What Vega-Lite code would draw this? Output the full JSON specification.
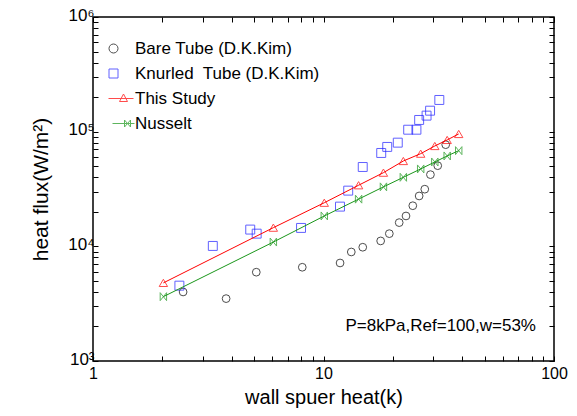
{
  "$schema": "https://vega.github.io/schema/vega-lite/v6.json",
  "width": 461,
  "height": 344,
  "autosize": "none",
  "padding": {"left": 93, "top": 17, "right": 23, "bottom": 55},
  "background": "white",
  "config": {
    "view": {"stroke": "black", "strokeWidth": 1.5},
    "font": "Liberation Sans",
    "axis": {"labelFont": "Liberation Sans", "titleFont": "Liberation Sans", "labelColor": "black", "titleColor": "black", "tickColor": "black", "domain": false, "grid": false, "titleFontWeight": "normal", "labelOverlap": false, "labelFlush": false}
  },
  "data": {
    "values": [
      {"series": "Bare Tube (D.K.Kim)", "x": 2.46, "y": 4000},
      {"series": "Bare Tube (D.K.Kim)", "x": 3.78, "y": 3500},
      {"series": "Bare Tube (D.K.Kim)", "x": 5.11, "y": 5950},
      {"series": "Bare Tube (D.K.Kim)", "x": 8.09, "y": 6570},
      {"series": "Bare Tube (D.K.Kim)", "x": 11.8, "y": 7160},
      {"series": "Bare Tube (D.K.Kim)", "x": 13.2, "y": 8930},
      {"series": "Bare Tube (D.K.Kim)", "x": 14.8, "y": 9820},
      {"series": "Bare Tube (D.K.Kim)", "x": 17.7, "y": 11150},
      {"series": "Bare Tube (D.K.Kim)", "x": 19.3, "y": 12900},
      {"series": "Bare Tube (D.K.Kim)", "x": 21.3, "y": 16100},
      {"series": "Bare Tube (D.K.Kim)", "x": 22.8, "y": 18400},
      {"series": "Bare Tube (D.K.Kim)", "x": 24.4, "y": 22600},
      {"series": "Bare Tube (D.K.Kim)", "x": 26.0, "y": 27500},
      {"series": "Bare Tube (D.K.Kim)", "x": 27.5, "y": 31500},
      {"series": "Bare Tube (D.K.Kim)", "x": 29.1, "y": 42200},
      {"series": "Bare Tube (D.K.Kim)", "x": 31.3, "y": 50500},
      {"series": "Bare Tube (D.K.Kim)", "x": 33.9, "y": 77000},
      {"series": "Knurled\u00a0 Tube (D.K.Kim)", "x": 2.37, "y": 4540},
      {"series": "Knurled\u00a0 Tube (D.K.Kim)", "x": 3.31, "y": 10080},
      {"series": "Knurled\u00a0 Tube (D.K.Kim)", "x": 4.81, "y": 14000},
      {"series": "Knurled\u00a0 Tube (D.K.Kim)", "x": 5.13, "y": 12900},
      {"series": "Knurled\u00a0 Tube (D.K.Kim)", "x": 7.99, "y": 14470},
      {"series": "Knurled\u00a0 Tube (D.K.Kim)", "x": 11.79, "y": 22200},
      {"series": "Knurled\u00a0 Tube (D.K.Kim)", "x": 12.8, "y": 30600},
      {"series": "Knurled\u00a0 Tube (D.K.Kim)", "x": 14.8, "y": 49200},
      {"series": "Knurled\u00a0 Tube (D.K.Kim)", "x": 17.8, "y": 65200},
      {"series": "Knurled\u00a0 Tube (D.K.Kim)", "x": 18.9, "y": 73600},
      {"series": "Knurled\u00a0 Tube (D.K.Kim)", "x": 21.0, "y": 80200},
      {"series": "Knurled\u00a0 Tube (D.K.Kim)", "x": 23.3, "y": 104000},
      {"series": "Knurled\u00a0 Tube (D.K.Kim)", "x": 25.3, "y": 104000},
      {"series": "Knurled\u00a0 Tube (D.K.Kim)", "x": 26.0, "y": 126500},
      {"series": "Knurled\u00a0 Tube (D.K.Kim)", "x": 28.0, "y": 138000},
      {"series": "Knurled\u00a0 Tube (D.K.Kim)", "x": 29.0, "y": 152400},
      {"series": "Knurled\u00a0 Tube (D.K.Kim)", "x": 31.8, "y": 189000},
      {"series": "This Study", "x": 2.02, "y": 4800},
      {"series": "This Study", "x": 6.06, "y": 14550},
      {"series": "This Study", "x": 10.08, "y": 24000},
      {"series": "This Study", "x": 14.2, "y": 34100},
      {"series": "This Study", "x": 18.2, "y": 43900},
      {"series": "This Study", "x": 22.2, "y": 55500},
      {"series": "This Study", "x": 26.4, "y": 64300},
      {"series": "This Study", "x": 30.4, "y": 75000},
      {"series": "This Study", "x": 34.4, "y": 84700},
      {"series": "This Study", "x": 38.6, "y": 95500},
      {"series": "Nusselt", "x": 2.02, "y": 3640},
      {"series": "Nusselt", "x": 6.06, "y": 10900},
      {"series": "Nusselt", "x": 10.08, "y": 18400},
      {"series": "Nusselt", "x": 14.2, "y": 25800},
      {"series": "Nusselt", "x": 18.2, "y": 33000},
      {"series": "Nusselt", "x": 22.2, "y": 40000},
      {"series": "Nusselt", "x": 26.4, "y": 47300},
      {"series": "Nusselt", "x": 30.4, "y": 54400},
      {"series": "Nusselt", "x": 34.4, "y": 61400},
      {"series": "Nusselt", "x": 38.6, "y": 68300}
    ]
  },
  "resolve": {"axis": {"x": "independent", "y": "independent"}},
  "layer": [
    {
      "transform": [{"filter": "datum.series == 'Bare Tube (D.K.Kim)'"}],
      "mark": {"type": "point", "shape": "circle", "filled": false, "color": "black", "size": 60, "strokeWidth": 1},
      "encoding": {
        "x": {"field": "x", "type": "quantitative", "scale": {"type": "log", "domain": [1, 100]},
          "axis": {"orient": "bottom", "values": [1,2,3,4,5,6,7,8,9,10,20,30,40,50,60,70,80,90,100],
            "labelExpr": "datum.value == 1 ? '1' : datum.value == 10 ? '10' : datum.value == 100 ? '100' : ''",
            "tickSize": -5, "labelFontSize": 16, "labelPadding": 9, "title": "wall spuer heat(k)", "titleFontSize": 20, "titlePadding": 6}},
        "y": {"field": "y", "type": "quantitative", "scale": {"type": "log", "domain": [1000, 1000000]},
          "axis": {"orient": "left", "values": [1000,2000,3000,4000,5000,6000,7000,8000,9000,10000,20000,30000,40000,50000,60000,70000,80000,90000,100000,200000,300000,400000,500000,600000,700000,800000,900000,1000000],
            "labelExpr": "datum.value == 1000 ? '10³' : datum.value == 10000 ? '10⁴' : datum.value == 100000 ? '10⁵' : datum.value == 1000000 ? '10⁶' : ''",
            "tickSize": -5, "labelFontSize": 17, "labelPadding": 4, "labelOffset": -2, "title": "heat flux(W/m²)", "titleFontSize": 21, "titlePadding": 16}}
      }
    },
    {
      "transform": [{"filter": "datum.series == 'Knurled\u00a0 Tube (D.K.Kim)'"}],
      "mark": {"type": "point", "shape": "square", "filled": false, "color": "#1f1fff", "size": 80, "strokeWidth": 1},
      "encoding": {
        "x": {"field": "x", "type": "quantitative",
          "axis": {"orient": "top", "values": [1,2,3,4,5,6,7,8,9,10,20,30,40,50,60,70,80,90,100], "labels": false, "tickSize": -5, "title": null}},
        "y": {"field": "y", "type": "quantitative",
          "axis": {"orient": "right", "values": [1000,2000,3000,4000,5000,6000,7000,8000,9000,10000,20000,30000,40000,50000,60000,70000,80000,90000,100000,200000,300000,400000,500000,600000,700000,800000,900000,1000000], "labels": false, "tickSize": -5, "title": null}}
      }
    },
    {
      "transform": [{"filter": "datum.series == 'This Study'"}],
      "mark": {"type": "line", "color": "#ff0000", "strokeWidth": 1},
      "encoding": {
        "x": {"field": "x", "type": "quantitative", "axis": null},
        "y": {"field": "y", "type": "quantitative", "axis": null}
      }
    },
    {
      "transform": [{"filter": "datum.series == 'This Study'"}],
      "mark": {"type": "point", "shape": "triangle-up", "filled": false, "color": "#ff0000", "size": 70, "strokeWidth": 1},
      "encoding": {
        "x": {"field": "x", "type": "quantitative", "axis": null},
        "y": {"field": "y", "type": "quantitative", "axis": null}
      }
    },
    {
      "transform": [{"filter": "datum.series == 'Nusselt'"}],
      "mark": {"type": "line", "color": "#1a961a", "strokeWidth": 1},
      "encoding": {
        "x": {"field": "x", "type": "quantitative", "axis": null},
        "y": {"field": "y", "type": "quantitative", "axis": null}
      }
    },
    {
      "transform": [{"filter": "datum.series == 'Nusselt'"}],
      "mark": {"type": "point", "shape": "M-0.8,-1L0.8,1L0.8,-1L-0.8,1Z", "filled": false, "color": "#1a961a", "size": 64, "strokeWidth": 1},
      "encoding": {
        "x": {"field": "x", "type": "quantitative", "axis": null},
        "y": {"field": "y", "type": "quantitative", "axis": null}
      }
    },
    {
      "transform": [{"filter": "false"}],
      "mark": {"type": "point", "filled": false, "strokeWidth": 1},
      "encoding": {
        "x": {"field": "x", "type": "quantitative", "axis": null},
        "y": {"field": "y", "type": "quantitative", "axis": null},
        "shape": {"field": "series", "type": "nominal",
          "scale": {"domain": ["Bare Tube (D.K.Kim)", "Knurled\u00a0 Tube (D.K.Kim)", "This Study", "Nusselt"],
            "range": [
              "M-0.35,0A0.45,0.45,0,1,1,-1.25,0A0.45,0.45,0,1,1,-0.35,0Z",
              "M-1.25,-0.45L-0.35,-0.45L-0.35,0.45L-1.25,0.45Z",
              "M-1.3,0L1.2,0M0.2,-0.45L0.6,0.3L-0.2,0.3Z",
              "M-0.9,0L1.3,0M0.3,-0.35L0.9,0.35L0.9,-0.35L0.3,0.35Z"
            ]},
          "legend": {"title": null, "orient": "none", "legendX": 18, "legendY": 21, "padding": 0, "symbolSize": 400, "symbolStrokeWidth": 1, "labelFontSize": 17, "labelFont": "Liberation Sans", "labelColor": "black", "labelOffset": 3, "rowPadding": 6, "labelLimit": 300}},
        "color": {"field": "series", "type": "nominal",
          "scale": {"domain": ["Bare Tube (D.K.Kim)", "Knurled\u00a0 Tube (D.K.Kim)", "This Study", "Nusselt"],
            "range": ["black", "#1f1fff", "#ff0000", "#1a961a"]}}
      }
    },
    {
      "data": {"values": [{"note": "P=8kPa,Ref=100,w=53%"}]},
      "mark": {"type": "text", "align": "right", "baseline": "middle", "fontSize": 17, "font": "Liberation Sans", "color": "black"},
      "encoding": {
        "text": {"field": "note"},
        "x": {"datum": 83.5, "type": "quantitative", "axis": null},
        "y": {"datum": 2020, "type": "quantitative", "axis": null}
      }
    }
  ]
}
